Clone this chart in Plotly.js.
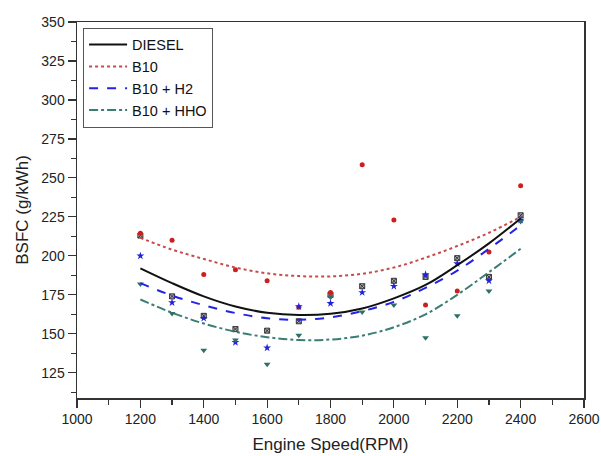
<!DOCTYPE html>
<html>
<head>
<meta charset="utf-8">
<script src="https://cdn.plot.ly/plotly-3.0.1.min.js"></script>
<style>html,body{margin:0;padding:0;background:#fff;}#chart{width:601px;height:456px;}</style>
</head>
<body>
<div id="chart"></div>
<script>
// Engine speed (RPM)
var rpm = [1200, 1300, 1400, 1500, 1600, 1700, 1800, 1900, 2000, 2100, 2200, 2300, 2400];

// Measured BSFC points (g/kWh)
var dieselPts = [213, 174, 161.5, 153, 152, 158, 175, 180.5, 184, 186.5, 198.5, 186.5, 226];
var b10Pts    = [214.5, 210, 188, 191, 184, 167, 176.5, 258.5, 223, 168.5, 177.5, 202.5, 245];
var h2Pts     = [200, 170, 160, 144.5, 141, 167.5, 169.5, 176.5, 180.5, 188, 195, 184, 223];
var hhoPts    = [182, 163, 139.5, 146, 130.5, 149, 173.5, 164, 168.5, 147.5, 161.5, 177.5, 222];

// Fitted trend curves (g/kWh)
var dieselFit = [192, 182.5, 174, 167.5, 163.5, 162, 162.8, 166.2, 172.7, 181.3, 194, 208, 224];
var b10Fit    = [211.5, 204, 198, 192.5, 188.8, 187, 186.8, 188.5, 192.5, 198.8, 206.3, 214.8, 225];
var h2Fit     = [182.5, 174.5, 168.3, 163.3, 160, 159, 160.5, 164.5, 170.5, 179.5, 190.5, 204.5, 219.5];
var hhoFit    = [172, 163.5, 156.6, 151.3, 147.8, 146, 146.3, 148.8, 154.2, 162.5, 175, 189.5, 204.5];

var seriesNames = ['DIESEL', 'B10', 'B10 + H2', 'B10 + HHO'];
var xTickVals = [1000, 1200, 1400, 1600, 1800, 2000, 2200, 2400, 2600];
var yTickVals = [125, 150, 175, 200, 225, 250, 275, 300, 325, 350];

var traces = [
  {x: rpm, y: dieselPts, mode: 'markers', showlegend: false,
   marker: {symbol: 'square-x', size: 5, color: '#b0b0b0', line: {color: '#333', width: 1}}},
  {x: rpm, y: b10Pts, mode: 'markers', showlegend: false,
   marker: {symbol: 'circle', size: 5, color: '#cc1f1f'}},
  {x: rpm, y: h2Pts, mode: 'markers', showlegend: false,
   marker: {symbol: 'star', size: 6, color: '#2121dd'}},
  {x: rpm, y: hhoPts, mode: 'markers', showlegend: false,
   marker: {symbol: 'triangle-down', size: 6, color: '#2f6f68'}},
  {x: rpm, y: dieselFit, mode: 'lines', name: seriesNames[0],
   line: {color: '#111', width: 2, dash: 'solid', shape: 'spline', smoothing: 1}},
  {x: rpm, y: b10Fit, mode: 'lines', name: seriesNames[1],
   line: {color: '#c84a4a', width: 2, dash: 'dot', shape: 'spline', smoothing: 1}},
  {x: rpm, y: h2Fit, mode: 'lines', name: seriesNames[2],
   line: {color: '#2323e6', width: 2, dash: 'dash', shape: 'spline', smoothing: 1}},
  {x: rpm, y: hhoFit, mode: 'lines', name: seriesNames[3],
   line: {color: '#3a7d74', width: 2, dash: 'dashdot', shape: 'spline', smoothing: 1}}
];

var axisCommon = {
  showline: true, mirror: true, linecolor: '#333', linewidth: 1.5,
  ticks: 'outside', ticklen: 8, tickwidth: 1.2, tickcolor: '#333',
  showgrid: false, zeroline: false,
  tickfont: {family: 'Liberation Sans, Arial, sans-serif', size: 14, color: '#222'}
};

var layout = {
  width: 601, height: 456,
  margin: {l: 77, r: 17, t: 22, b: 58},
  paper_bgcolor: '#fff', plot_bgcolor: '#fff',
  font: {family: 'Liberation Sans, Arial, sans-serif', color: '#222'},
  xaxis: Object.assign({}, axisCommon, {
    range: [1000, 2600], tickvals: xTickVals,
    minor: {dtick: 100, ticks: 'outside', ticklen: 5, tickcolor: '#333', tickwidth: 1.2},
    title: {text: 'Engine Speed(RPM)', font: {size: 17, color: '#222'}, standoff: 12}
  }),
  yaxis: Object.assign({}, axisCommon, {
    range: [108.8, 350], tickvals: yTickVals,
    minor: {dtick: 12.5, ticks: 'outside', ticklen: 5, tickcolor: '#333', tickwidth: 1.2},
    title: {text: 'BSFC (g/kWh)', font: {size: 17, color: '#222'}, standoff: 8}
  }),
  legend: {
    x: 0.012, y: 0.985, xanchor: 'left', yanchor: 'top',
    bgcolor: '#fff', bordercolor: '#555', borderwidth: 1,
    font: {size: 14.5, color: '#111'}, tracegroupgap: 0, itemwidth: 38
  },
  showlegend: true
};

Plotly.newPlot('chart', traces, layout, {staticPlot: true, displayModeBar: false});
</script>
</body>
</html>
